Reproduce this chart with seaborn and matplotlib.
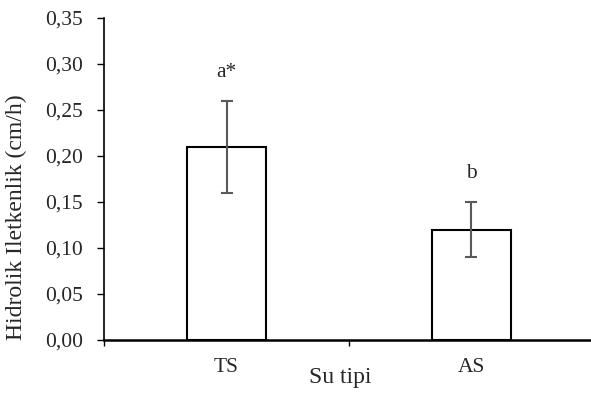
import matplotlib
matplotlib.use("Agg")
import matplotlib.pyplot as plt
import seaborn as sns
from matplotlib.ticker import FuncFormatter, FixedLocator

# data
su_tipi = ["TS", "AS"]
iletkenlik = [0.21, 0.12]
hata = [0.05, 0.03]
harfler = ["a*", "b"]

sns.set_theme(style="ticks")
plt.rcParams["font.family"] = ["Liberation Serif", "DejaVu Serif"]

fig = plt.figure(figsize=(5.91, 3.97), dpi=100)
ax = fig.add_axes([0.176, 0.1436, 0.829, 0.811])

sns.barplot(x=su_tipi, y=iletkenlik, color="white", edgecolor="black",
            linewidth=1.5, width=0.32, errorbar=None, ax=ax)
ax.errorbar(range(len(su_tipi)), iletkenlik, yerr=hata, fmt="none",
            ecolor="#595959", elinewidth=1.5, capsize=4.3, capthick=1.5)

for i, (v, e, h) in enumerate(zip(iletkenlik, hata, harfler)):
    ax.text(i, v + e + 0.031, h, ha="center", va="center", fontsize=15.5)

ax.set_xlim(-0.5, 1.5)
ax.set_ylim(0, 0.35)
ax.set_yticks([0, 0.05, 0.10, 0.15, 0.20, 0.25, 0.30, 0.35])
ax.yaxis.set_major_formatter(FuncFormatter(lambda v, p: f"{v:.2f}".replace(".", ",")))
ax.tick_params(axis="y", labelsize=15.5, length=5, width=1, color="black", pad=10)
ax.tick_params(axis="x", which="major", labelsize=15.5, length=0, pad=13)
ax.xaxis.set_minor_locator(FixedLocator([-0.5, 0.5, 1.5]))
ax.tick_params(axis="x", which="minor", length=4, width=1, color="black")

ax.set_xlabel("Su tipi", fontsize=17)
ax.set_ylabel("Hidrolik Iletkenlik (cm/h)", fontsize=17)
ax.xaxis.set_label_coords(0.482, -0.085)
ax.yaxis.set_label_coords(-0.158, 0.382)

for s in ["top", "right"]:
    ax.spines[s].set_visible(False)
ax.spines["left"].set_linewidth(1.2)
ax.spines["bottom"].set_linewidth(1.8)
ax.spines["left"].set_color("black")
ax.spines["bottom"].set_color("black")

fig.savefig("out.png", dpi=100)
